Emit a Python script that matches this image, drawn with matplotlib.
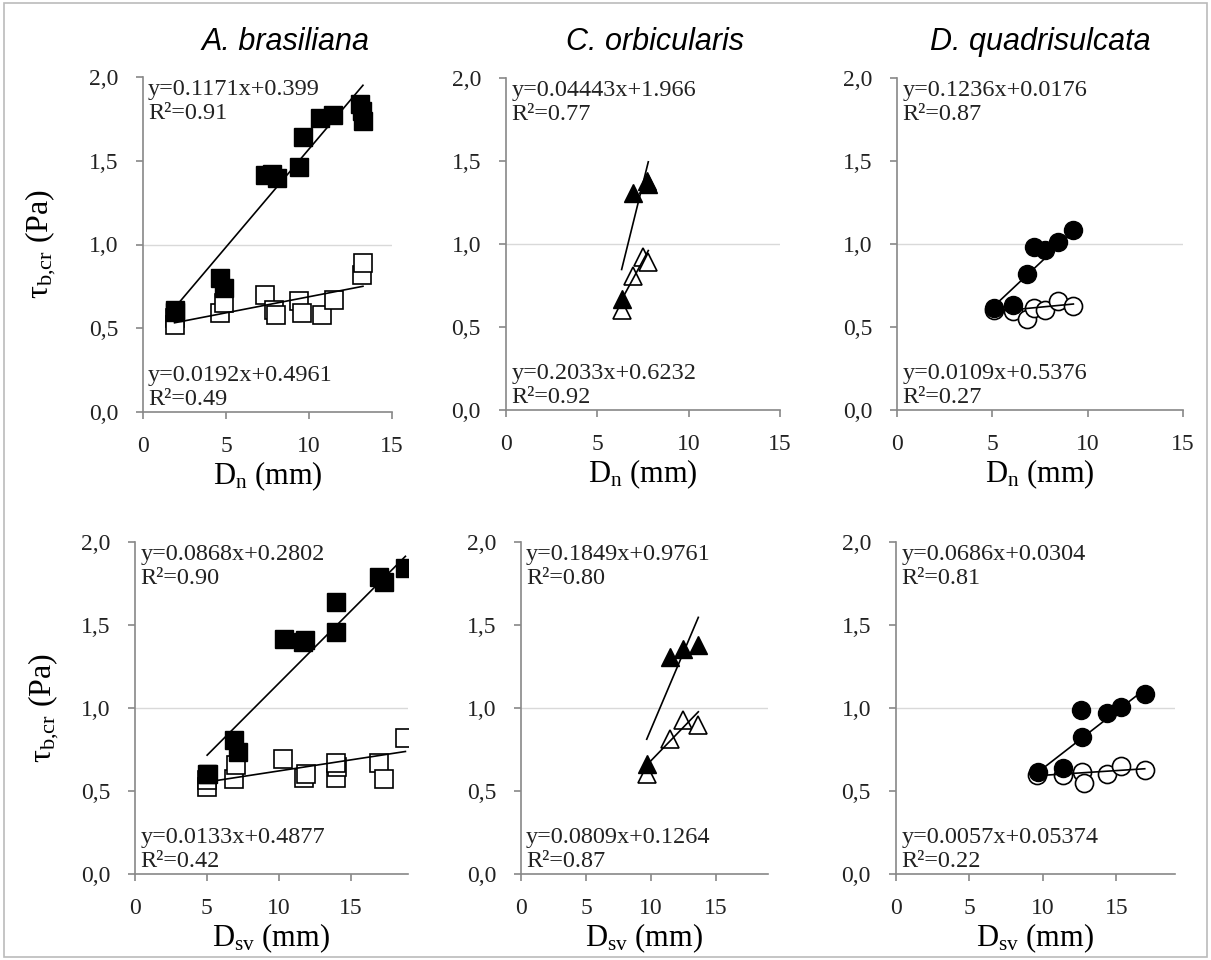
import matplotlib
matplotlib.use("Agg")
import matplotlib.pyplot as plt
from matplotlib.patches import Rectangle
import numpy as np

# ---- data (tau_b,cr in Pa) ----
species = ["A. brasiliana", "C. orbicularis", "D. quadrisulcata"]

# top row: nominal diameter Dn (mm)
ab_dn_fill_x = [1.9, 1.95, 4.64, 4.88, 7.35, 7.8, 8.05, 9.4, 9.62, 10.66, 11.45, 13.1, 13.2, 13.25]
ab_dn_fill_y = [0.61, 0.60, 0.80, 0.74, 1.415, 1.42, 1.40, 1.46, 1.64, 1.755, 1.775, 1.84, 1.80, 1.74]
ab_dn_open_x = [1.9, 1.95, 4.64, 4.88, 7.35, 7.9, 7.99, 9.4, 9.56, 10.76, 11.5, 13.17, 13.25]
ab_dn_open_y = [0.56, 0.52, 0.59, 0.65, 0.70, 0.61, 0.58, 0.66, 0.59, 0.58, 0.67, 0.82, 0.89]

co_dn_fill_x = [6.33, 6.93, 7.70, 7.79]
co_dn_fill_y = [0.67, 1.31, 1.38, 1.36]
co_dn_open_x = [6.33, 6.93, 7.52, 7.79]
co_dn_open_y = [0.60, 0.81, 0.92, 0.89]

dq_dn_fill_x = [5.09, 6.07, 6.80, 7.18, 7.76, 8.46, 9.25]
dq_dn_fill_y = [0.617, 0.631, 0.822, 0.982, 0.962, 1.012, 1.087]
dq_dn_open_x = [5.09, 6.07, 6.80, 7.18, 7.76, 8.46, 9.25]
dq_dn_open_y = [0.60, 0.597, 0.551, 0.617, 0.60, 0.657, 0.625]

# bottom row: sieve diameter Dsv (mm)
ab_dsv_fill_x = [5.02, 5.09, 6.88, 7.18, 10.35, 11.7, 11.8, 14.0, 13.96, 17.0, 17.36, 18.82]
ab_dsv_fill_y = [0.605, 0.60, 0.805, 0.735, 1.418, 1.40, 1.408, 1.458, 1.638, 1.789, 1.759, 1.846]
ab_dsv_open_x = [5.02, 5.02, 6.88, 7.06, 10.3, 11.74, 11.88, 14.0, 14.04, 14.0, 16.97, 17.3, 18.82]
ab_dsv_open_y = [0.524, 0.564, 0.575, 0.655, 0.695, 0.58, 0.605, 0.58, 0.645, 0.67, 0.669, 0.575, 0.822]

co_dsv_fill_x = [9.67, 11.46, 12.49, 13.64]
co_dsv_fill_y = [0.665, 1.307, 1.358, 1.378]
co_dsv_open_x = [9.67, 11.46, 12.49, 13.64]
co_dsv_open_y = [0.605, 0.816, 0.93, 0.896]

dq_dsv_fill_x = [9.68, 11.38, 12.70, 12.63, 14.38, 15.35, 16.94]
dq_dsv_fill_y = [0.614, 0.641, 0.825, 0.986, 0.97, 1.006, 1.087]
dq_dsv_open_x = [9.57, 11.38, 12.70, 12.77, 14.38, 15.35, 16.94]
dq_dsv_open_y = [0.595, 0.595, 0.614, 0.548, 0.605, 0.649, 0.625]

# trend lines as drawn (slope, intercept)
dn_fill_fit = [(0.1171, 0.399), (0.4443, -1.966), (0.1077, 0.078)]
dn_open_fit = [(0.0192, 0.4961), (0.2033, -0.6232), (0.0109, 0.5376)]
dsv_fill_fit = [(0.0868, 0.2802), (0.1849, -0.9761), (0.0686, -0.05)]
dsv_open_fit = [(0.0133, 0.4877), (0.0809, -0.1264), (0.0057, 0.5374)]

# equation labels as printed
dn_fill_lab = ["y=0.1171x+0.399\nR²=0.91", "y=0.04443x+1.966\nR²=0.77", "y=0.1236x+0.0176\nR²=0.87"]
dn_open_lab = ["y=0.0192x+0.4961\nR²=0.49", "y=0.2033x+0.6232\nR²=0.92", "y=0.0109x+0.5376\nR²=0.27"]
dsv_fill_lab = ["y=0.0868x+0.2802\nR²=0.90", "y=0.1849x+0.9761\nR²=0.80", "y=0.0686x+0.0304\nR²=0.81"]
dsv_open_lab = ["y=0.0133x+0.4877\nR²=0.42", "y=0.0809x+0.1264\nR²=0.87", "y=0.0057x+0.05374\nR²=0.22"]

markers = ["s", "^", "o"]
msizes = [13.5, 13, 13]

plt.rcParams["font.family"] = ["Liberation Serif", "DejaVu Serif"]
plt.rcParams["mathtext.default"] = "regular"

W, H = 1211, 960
fig = plt.figure(figsize=(W / 100, H / 100), dpi=100)
fig.patches.append(Rectangle((0.003, 0.003), 0.994, 0.994, transform=fig.transFigure,
                             fill=False, edgecolor="#bbbbbb", lw=1.2))


def px_axes(x0, x1, y0, y1):
    # pixel box (left, right, top, bottom) -> figure axes
    return fig.add_axes([x0 / W, 1 - y1 / H, (x1 - x0) / W, (y1 - y0) / H])


top_boxes = [(143, 392, 77, 412), (506, 780, 78, 410), (897, 1183, 78, 410)]
bot_boxes = [(135, 408, 542, 874), (521, 768, 542, 874), (896, 1175, 542, 874)]

top_data = [(ab_dn_fill_x, ab_dn_fill_y, ab_dn_open_x, ab_dn_open_y),
            (co_dn_fill_x, co_dn_fill_y, co_dn_open_x, co_dn_open_y),
            (dq_dn_fill_x, dq_dn_fill_y, dq_dn_open_x, dq_dn_open_y)]
bot_data = [(ab_dsv_fill_x, ab_dsv_fill_y, ab_dsv_open_x, ab_dsv_open_y),
            (co_dsv_fill_x, co_dsv_fill_y, co_dsv_open_x, co_dsv_open_y),
            (dq_dsv_fill_x, dq_dsv_fill_y, dq_dsv_open_x, dq_dsv_open_y)]


def draw_panel(ax, data, ffit, ofit, flab, olab, i, xmax, xlabel):
    fx, fy, ox, oy = data
    ax.axhline(1.0, color="#d9d9d9", lw=1.0, zorder=0)
    ax.plot(ox, oy, markers[i], ms=msizes[i], mfc="white", mec="black", mew=1.2, ls="none", zorder=2)
    ax.plot(fx, fy, markers[i], ms=msizes[i], mfc="black", mec="black", ls="none", zorder=3)
    for xs, (m, b) in [(fx, ffit), (ox, ofit)]:
        xx = np.array([min(xs), max(xs)])
        ax.plot(xx, m * xx + b, color="black", lw=1.2, zorder=4)
    ax.set_xlim(0, xmax)
    ax.set_ylim(0, 2.0)
    ax.set_xticks([0, 5, 10, 15])
    ax.set_yticks([0, 0.5, 1.0, 1.5, 2.0])
    ax.set_yticklabels(["0,0", "0,5", "1,0", "1,5", "2,0"])
    for s in ["top", "right"]:
        ax.spines[s].set_visible(False)
    for s in ["left", "bottom"]:
        ax.spines[s].set_color("#888888")
        ax.spines[s].set_linewidth(1.2)
    ax.tick_params(direction="out", length=5, width=1.2, color="#888888",
                   labelsize=17, labelcolor="#222222")
    ax.tick_params(axis="y", pad=13)
    ax.tick_params(axis="x", pad=12)
    ax.text(0.02, 0.995, flab, transform=ax.transAxes, ha="left", va="top",
            fontsize=17.5, color="#222222", linespacing=1.2)
    ax.text(0.02, 0.005, olab, transform=ax.transAxes, ha="left", va="bottom",
            fontsize=17.5, color="#222222", linespacing=1.2)
    ax.set_xlabel(xlabel, fontsize=22, labelpad=2)


for i in range(3):
    ax = px_axes(*top_boxes[i])
    draw_panel(ax, top_data[i], dn_fill_fit[i], dn_open_fit[i], dn_fill_lab[i], dn_open_lab[i],
               i, 15, "$D_n$ (mm)")
    if i == 0:
        ax.set_ylabel("$τ_{b{,}cr}$ (Pa)", fontsize=23, labelpad=22)
    ax = px_axes(*bot_boxes[i])
    draw_panel(ax, bot_data[i], dsv_fill_fit[i], dsv_open_fit[i], dsv_fill_lab[i], dsv_open_lab[i],
               i, 19, "$D_{sv}$ (mm)")
    if i == 0:
        ax.set_ylabel("$τ_{b{,}cr}$ (Pa)", fontsize=23, labelpad=14)

title_x = [285, 655, 1040]
for i, name in enumerate(species):
    fig.text(title_x[i] / W, 1 - 42 / H, name, ha="center", va="center", fontsize=22,
             style="italic", family="Liberation Sans")

fig.savefig("out.png", dpi=100)
